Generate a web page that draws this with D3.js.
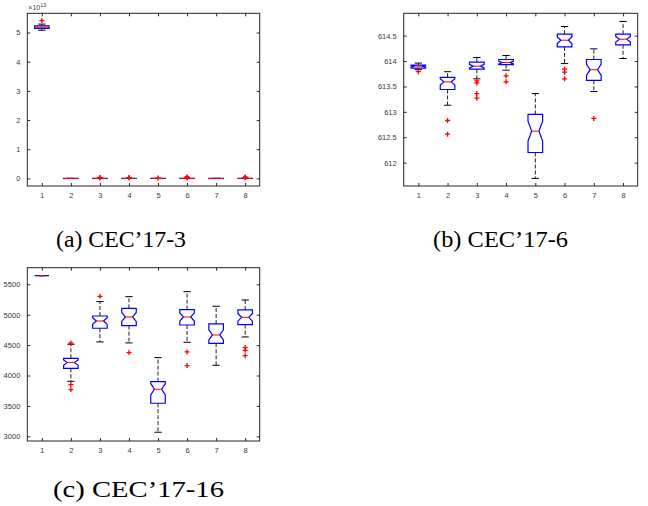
<!DOCTYPE html>
<html>
<head>
<meta charset="utf-8">
<script src="https://cdn.jsdelivr.net/npm/d3@7"></script>
<style>
  body { margin: 0; background: #fff; }
  svg { display: block; }
  .tick text { font-family: "Liberation Sans", Arial, sans-serif; font-size: 7.5px; fill: #3a3a3a; }
  .tick line { stroke: #262626; }
  .caption { font-family: "Liberation Serif", "Times New Roman", serif; font-size: 23px; fill: #000; }
</style>
</head>
<body>
<script>
const WIDTH = 648;
const HEIGHT = 506;
const RUNS = 36; // used for notch size only

var categories = [1, 2, 3, 4, 5, 6, 7, 8];

// box stats per algorithm: [lowWhisker, q1, median, q3, highWhisker]
// CEC'17-3, in units of 1e13
var statsA = [
  [5.08, 5.14, 5.185, 5.23, 5.29],
  [-0.002, -0.001, 0, 0.001, 0.002],
  [-0.002, -0.001, 0, 0.001, 0.003],
  [-0.002, -0.001, 0, 0.001, 0.003],
  [-0.002, -0.001, 0, 0.001, 0.002],
  [-0.002, -0.001, 0, 0.001, 0.003],
  [-0.002, -0.001, 0, 0.001, 0.002],
  [-0.002, -0.001, 0, 0.001, 0.003]
];
var outliersA = [[5.41], [], [0.02, 0.035], [0.02, 0.03], [0.012], [0.02, 0.04, 0.05], [], [0.03, 0.05]];

// CEC'17-6
var statsB = [
  [613.83, 613.86, 613.90, 613.92, 613.96],
  [613.13, 613.44, 613.59, 613.68, 613.79],
  [613.65, 613.84, 613.90, 613.98, 614.07],
  [613.82, 613.93, 613.97, 614.03, 614.11],
  [611.69, 612.20, 612.62, 612.95, 613.36],
  [613.95, 614.28, 614.41, 614.53, 614.68],
  [613.40, 613.62, 613.83, 614.03, 614.24],
  [614.05, 614.32, 614.43, 614.53, 614.78]
];
var outliersB = [[613.79], [612.83, 612.56], [613.61, 613.57, 613.36, 613.27], [613.71, 613.59],
  [], [613.84, 613.78, 613.65], [612.87], []];

// CEC'17-16
var statsC = [
  [5642, 5642, 5642, 5642, 5642],
  [3905, 4119, 4212, 4283, 4514],
  [4552, 4777, 4897, 4979, 5215],
  [4536, 4820, 4963, 5105, 5297],
  [3067, 3544, 3774, 3900, 4294],
  [4546, 4831, 4963, 5084, 5379],
  [4168, 4530, 4667, 4848, 5138],
  [4634, 4837, 4957, 5078, 5242]
];
var outliersC = [[], [4535, 3851, 3768], [5303], [4377], [], [4388, 4163], [], [4459, 4415, 4327]];

var ticksA = [0, 1, 2, 3, 4, 5];
var ticksB = [612, 612.5, 613, 613.5, 614, 614.5];
var ticksC = [3000, 3500, 4000, 4500, 5000, 5500];

var panels = [
  {stats: statsA, outliers: outliersA, ticks: ticksA, domain: [-0.26, 5.66], notch: false,
   box: {x0: 27.3, x1: 259.7, y0: 13.3, y1: 186}, caption: "(a) CEC\u201917-3", capX: 56, capY: 247, capW: 130, exponent: "13"},
  {stats: statsB, outliers: outliersB, ticks: ticksB, domain: [611.54, 614.94], notch: true,
   box: {x0: 403.7, x1: 637.7, y0: 13.3, y1: 186}, caption: "(b) CEC\u201917-6", capX: 433, capY: 247, capW: 135},
  {stats: statsC, outliers: outliersC, ticks: ticksC, domain: [2923, 5773], notch: true,
   box: {x0: 27.3, x1: 259.7, y0: 267.7, y1: 441}, caption: "(c) CEC\u201917-16", capX: 53, capY: 497, capW: 171}
];

var svg = d3.select('body').append('svg')
  .attr('width', WIDTH)
  .attr('height', HEIGHT);

var drawPanel = function(p){
  var b = p.box;
  var g = svg.append('g');
  var x = d3.scaleLinear().domain([0.5, 8.5]).range([b.x0, b.x1]);
  var y = d3.scaleLinear().domain(p.domain).range([b.y1, b.y0]);

  // frame
  g.append('rect')
    .attr('x', b.x0).attr('y', b.y0)
    .attr('width', b.x1 - b.x0).attr('height', b.y1 - b.y0)
    .attr('fill', 'none').attr('stroke', '#262626').attr('stroke-width', 1);

  var fmt = function(d){ return String(d); };
  g.append('g').attr('transform', 'translate(0,' + b.y1 + ')')
    .call(d3.axisBottom(x).tickValues(categories).tickFormat(fmt).tickSizeInner(-3).tickSizeOuter(0).tickPadding(7));
  g.append('g').attr('transform', 'translate(0,' + b.y0 + ')')
    .call(d3.axisTop(x).tickValues(categories).tickFormat('').tickSizeInner(-3).tickSizeOuter(0));
  g.append('g').attr('transform', 'translate(' + b.x0 + ',0)')
    .call(d3.axisLeft(y).tickValues(p.ticks).tickFormat(fmt).tickSizeInner(-3).tickSizeOuter(0).tickPadding(7));
  g.append('g').attr('transform', 'translate(' + b.x1 + ',0)')
    .call(d3.axisRight(y).tickValues(p.ticks).tickFormat('').tickSizeInner(-3).tickSizeOuter(0));
  g.selectAll('.domain').remove();

  if (p.exponent) {
    var t = g.append('text').attr('x', b.x0 + 1).attr('y', b.y0 - 3)
      .style('font-family', '"Liberation Sans", Arial, sans-serif').style('font-size', '7px').style('fill', '#3a3a3a');
    t.append('tspan').text('\u00d710');
    t.append('tspan').attr('dy', -3.5).style('font-size', '5.5px').text(p.exponent);
  }

  var half = (x(1.25) - x(1)) ; // half box width
  var cap = half / 2;
  categories.forEach(function(c, i){
    var s = p.stats[i];
    var cx = x(c);
    var lo = s[0], q1 = s[1], med = s[2], q3 = s[3], hi = s[4];

    // whiskers
    [[q3, hi], [q1, lo]].forEach(function(w){
      g.append('line')
        .attr('x1', cx).attr('x2', cx).attr('y1', y(w[0])).attr('y2', y(w[1]))
        .attr('stroke', '#222').attr('stroke-width', 1).attr('stroke-dasharray', '4,2');
      g.append('line')
        .attr('x1', cx - cap).attr('x2', cx + cap).attr('y1', y(w[1])).attr('y2', y(w[1]))
        .attr('stroke', '#000').attr('stroke-width', 1);
    });

    // box
    var inner = half / 2;
    var path;
    if (p.notch) {
      var n = 1.57 * (q3 - q1) / Math.sqrt(RUNS);
      var nTop = Math.min(q3, med + n), nBot = Math.max(q1, med - n);
      path = d3.line()([
        [cx - half, y(q3)], [cx + half, y(q3)], [cx + half, y(nTop)], [cx + inner, y(med)],
        [cx + half, y(nBot)], [cx + half, y(q1)], [cx - half, y(q1)], [cx - half, y(nBot)],
        [cx - inner, y(med)], [cx - half, y(nTop)]
      ]) + 'Z';
    } else {
      inner = half;
      path = d3.line()([[cx - half, y(q3)], [cx + half, y(q3)], [cx + half, y(q1)], [cx - half, y(q1)]]) + 'Z';
    }
    g.append('path').attr('d', path)
      .attr('fill', 'none').attr('stroke', '#0000ff').attr('stroke-width', 1.2);

    // median
    g.append('line')
      .attr('x1', cx - inner).attr('x2', cx + inner).attr('y1', y(med)).attr('y2', y(med))
      .attr('stroke', '#ff0000').attr('stroke-width', 1);

    // outliers
    p.outliers[i].forEach(function(v){
      var py = y(v), r = 2.5;
      g.append('path')
        .attr('d', 'M' + (cx - r) + ',' + py + 'H' + (cx + r) + 'M' + cx + ',' + (py - r) + 'V' + (py + r))
        .attr('stroke', '#ff0000').attr('stroke-width', 1.3).attr('fill', 'none');
    });
  });

  svg.append('text').classed('caption', true)
    .attr('x', p.capX).attr('y', p.capY)
    .attr('textLength', p.capW).attr('lengthAdjust', 'spacingAndGlyphs')
    .text(p.caption);
};

window.onload = function(){
  panels.forEach(drawPanel);
};
</script>
</body>
</html>
